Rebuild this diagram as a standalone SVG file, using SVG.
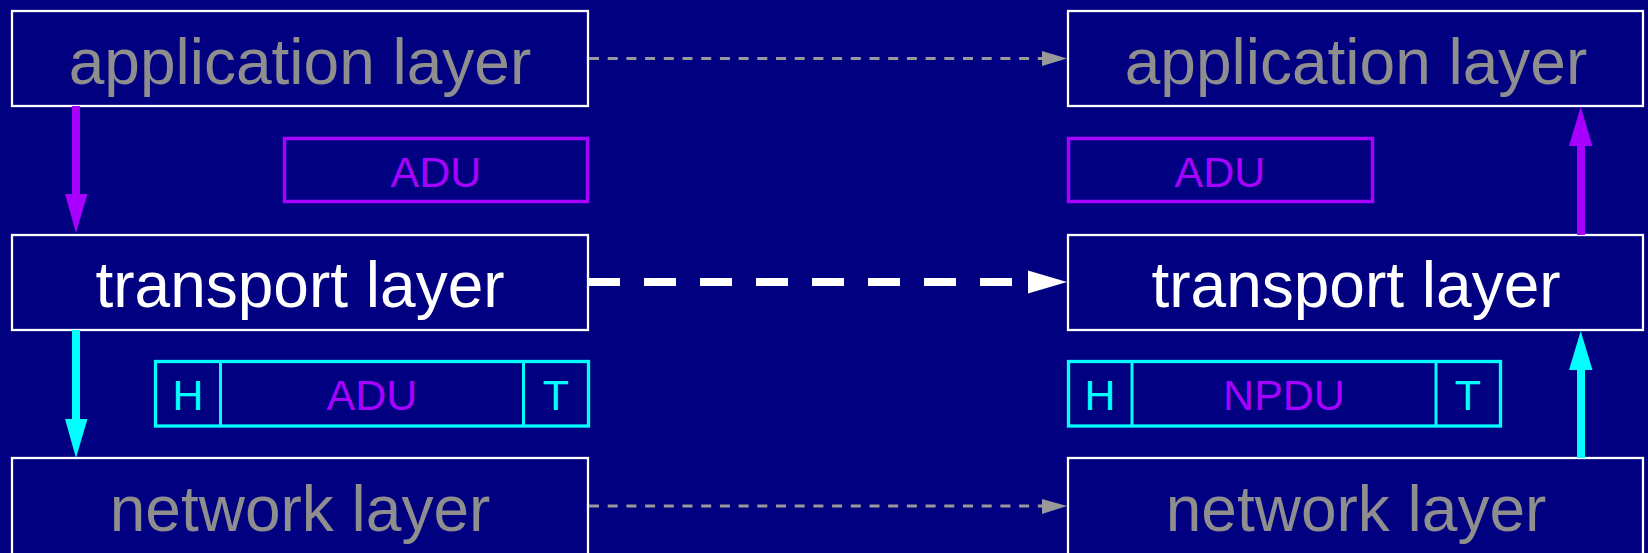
<svg xmlns="http://www.w3.org/2000/svg" width="1648" height="553" viewBox="0 0 1648 553">
<style>
.layer{fill:none;stroke:#ffffff;stroke-width:2.3}
.lt{font-family:"Liberation Sans",Arial,sans-serif;font-size:64px;text-anchor:middle}
.gray{fill:#8e8e8e}
.white{fill:#ffffff}
.pdu{font-family:"Liberation Sans",Arial,sans-serif;font-size:43px;text-anchor:middle}
.mag{fill:#a800ff}
.cy{fill:#00ffff}
.magbox{fill:none;stroke:#a800ff;stroke-width:3.5}
.cybox{fill:none;stroke:#00ffff;stroke-width:3.3}
</style>
<rect x="0" y="0" width="1648" height="553" fill="#000080"/>

<g id="app-left"><rect class="layer" x="12" y="11" width="576" height="95"/><text class="lt gray" x="300" y="84">application layer</text></g>
<g id="transport-left"><rect class="layer" x="12" y="235" width="576" height="95"/><text class="lt white" x="300" y="307">transport layer</text></g>
<g id="network-left"><rect class="layer" x="12" y="458" width="576" height="100"/><text class="lt gray" x="300" y="531">network layer</text></g>

<g id="app-right"><rect class="layer" x="1068" y="11" width="575" height="95"/><text class="lt gray" x="1356" y="84">application layer</text></g>
<g id="transport-right"><rect class="layer" x="1068" y="235" width="575" height="95"/><text class="lt white" x="1356" y="307">transport layer</text></g>
<g id="network-right"><rect class="layer" x="1068" y="458" width="575" height="100"/><text class="lt gray" x="1356" y="531">network layer</text></g>

<g id="adu-left"><rect class="magbox" x="284.5" y="138.5" width="303" height="63"/><text class="pdu mag" x="436" y="187">ADU</text></g>
<g id="adu-right"><rect class="magbox" x="1068.5" y="138.5" width="304" height="63"/><text class="pdu mag" x="1220" y="187">ADU</text></g>

<g id="tpdu-left">
<rect class="cybox" x="155.5" y="361.5" width="433" height="64.5"/>
<line x1="220.5" y1="361.5" x2="220.5" y2="426" stroke="#00ffff" stroke-width="3"/>
<line x1="523.5" y1="361.5" x2="523.5" y2="426" stroke="#00ffff" stroke-width="3"/>
<text class="pdu cy" x="188" y="410">H</text>
<text class="pdu mag" x="372" y="410">ADU</text>
<text class="pdu cy" x="556" y="410">T</text>
</g>
<g id="tpdu-right">
<rect class="cybox" x="1068.5" y="361.5" width="432" height="64.5"/>
<line x1="1132" y1="361.5" x2="1132" y2="426" stroke="#00ffff" stroke-width="3"/>
<line x1="1436" y1="361.5" x2="1436" y2="426" stroke="#00ffff" stroke-width="3"/>
<text class="pdu cy" x="1100" y="410">H</text>
<text class="pdu mag" x="1284" y="410">NPDU</text>
<text class="pdu cy" x="1468" y="410">T</text>
</g>

<g id="connectors">
<line x1="589" y1="58.5" x2="1043" y2="58.5" stroke="#999999" stroke-width="3" stroke-dasharray="10 8.7"/>
<polygon points="1042,51 1067,58.5 1042,66" fill="#999999"/>
<line x1="588" y1="282" x2="1028" y2="282" stroke="#ffffff" stroke-width="8" stroke-dasharray="32 24"/>
<polygon points="1028,270.5 1067,282 1028,293.5" fill="#ffffff"/>
<line x1="589" y1="506" x2="1043" y2="506" stroke="#999999" stroke-width="3" stroke-dasharray="10 8.7"/>
<polygon points="1042,499 1067,506 1042,514" fill="#999999"/>

<line x1="76" y1="106" x2="76" y2="196" stroke="#a800ff" stroke-width="8"/>
<polygon points="65,194 87.5,194 76,233" fill="#a800ff"/>
<line x1="76" y1="330" x2="76" y2="421" stroke="#00ffff" stroke-width="8"/>
<polygon points="65,419 87.5,419 76,458" fill="#00ffff"/>

<line x1="1581" y1="235" x2="1581" y2="144" stroke="#a800ff" stroke-width="8"/>
<polygon points="1569,146 1592.5,146 1580.7,106.5" fill="#a800ff"/>
<line x1="1581" y1="458" x2="1581" y2="368" stroke="#00ffff" stroke-width="8"/>
<polygon points="1569,370 1592.5,370 1580.7,331" fill="#00ffff"/>
</g>
</svg>
